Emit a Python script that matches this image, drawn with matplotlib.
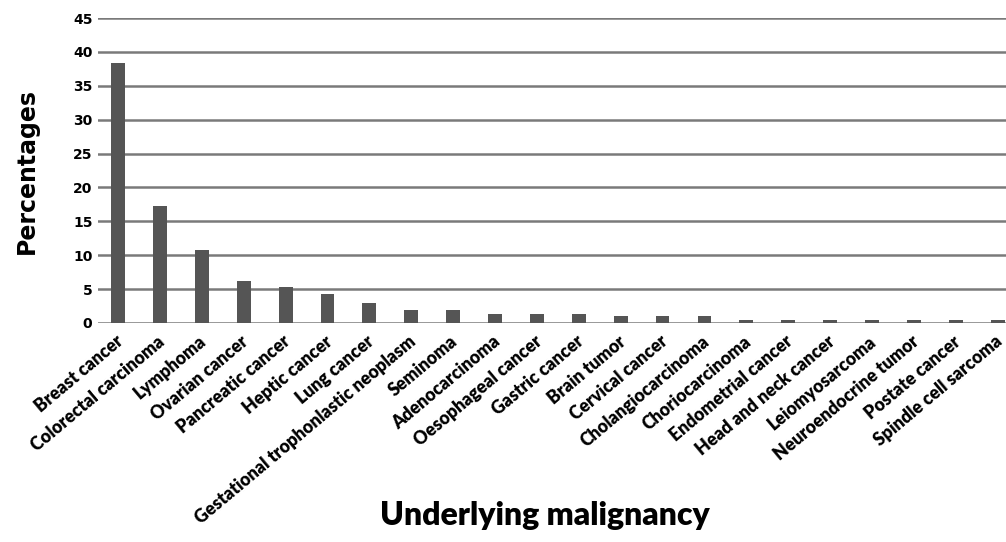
import matplotlib.pyplot as plt
import matplotlib.transforms as mtransforms

categories = ['Breast cancer', 'Colorectal carcinoma', 'Lymphoma', 'Ovarian cancer',
              'Pancreatic cancer', 'Heptic cancer', 'Lung cancer',
              'Gestational trophonlastic neoplasm', 'Seminoma', 'Adenocarcinoma',
              'Oesophageal cancer', 'Gastric cancer', 'Brain tumor', 'Cervical cancer',
              'Cholangiocarcinoma', 'Choriocarcinoma', 'Endometrial cancer',
              'Head and neck cancer', 'Leiomyosarcoma', 'Neuroendocrine tumor',
              'Postate cancer', 'Spindle cell sarcoma']
percentages = [38.3, 17.2, 10.8, 6.2, 5.3, 4.3, 2.9, 1.9, 1.9, 1.4, 1.4, 1.4,
               1.0, 1.0, 1.0, 0.5, 0.5, 0.5, 0.5, 0.5, 0.5, 0.5]
yticks = [0, 5, 10, 15, 20, 25, 30, 35, 40, 45]

fig = plt.figure(figsize=(10.06, 5.42), dpi=100)
ax = fig.add_axes([98 / 1006, 1 - 323 / 542, 1 - 98 / 1006, 305 / 542])

x = list(range(len(categories)))
ax.bar(x, percentages, width=0.33, color='#555555', zorder=3)

ax.set_ylim(0, 45)
ax.set_yticks(yticks)
ax.set_xlim(-0.48, 21.2)
ax.grid(axis='y', color='#7a7a7a', linewidth=1.8, zorder=0)
for s in ax.spines.values():
    s.set_visible(False)
ax.tick_params(length=0)
ax.tick_params(axis='y', pad=4)
ax.tick_params(axis='x', pad=7)

ax.set_xticks(x)
ax.set_xticklabels(categories, rotation=40, ha='right', rotation_mode='anchor',
                   fontsize=12.7, fontweight='heavy', family='Lato')
shift = mtransforms.ScaledTranslation(-3 / 100, 0, fig.dpi_scale_trans)
for lbl in ax.get_xticklabels():
    lbl.set_transform(lbl.get_transform() + shift)
for lbl in ax.get_yticklabels():
    lbl.set_fontsize(10)
    lbl.set_fontweight('heavy')
    lbl.set_family('DejaVu Sans')

ax.set_ylabel('Percentages', fontsize=17, fontweight='bold', family='DejaVu Sans')
ax.yaxis.set_label_coords(-0.065, 0.5)
fig.text(545 / 1006, 1 - 515 / 542, 'Underlying malignancy', fontsize=23,
         fontweight='heavy', family='Lato', ha='center', va='center')

fig.savefig('out.png', dpi=100)
